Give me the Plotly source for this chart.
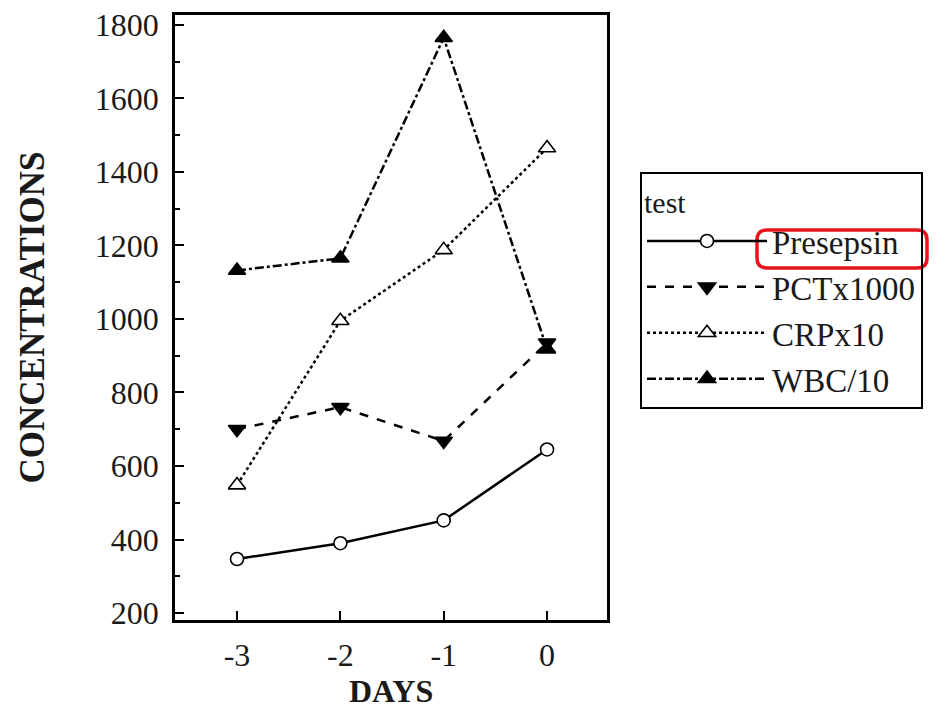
import plotly.graph_objects as go

days = [-3, -2, -1, 0]
day_labels = ["-3", "-2", "-1", "0"]
presepsin = [347, 390, 452, 645]
pct_x1000 = [700, 760, 668, 935]
crp_x10 = [548, 995, 1188, 1465]
wbc_div10 = [1132, 1165, 1765, 918]
y_ticks = [200, 400, 600, 800, 1000, 1200, 1400, 1600, 1800]
y_minor = [300, 500, 700, 900, 1100, 1300, 1500, 1700]

series = [
    ("Presepsin", presepsin, "solid", "circle", "white", 13),
    ("PCTx1000", pct_x1000, "dash", "triangle-down", "black", 15),
    ("CRPx10", crp_x10, "dot", "triangle-up", "white", 15),
    ("WBC/10", wbc_div10, "dashdot", "triangle-up", "black", 15),
]

SERIF = "Liberation Serif"
INK = "#1a1a1a"

fig = go.Figure()
for i, (name, vals, dash, sym, fill, sz) in enumerate(series):
    fig.add_trace(go.Scatter(
        x=days, y=vals, name=name, mode="lines+markers",
        line=dict(color="black", width=2.5, dash=dash),
        marker=dict(symbol=sym, size=sz, color=fill, line=dict(color="black", width=1.6)),
        legendgroup=f"g{i}",
    ))

axis_common = dict(
    showline=True, linecolor="black", linewidth=2.5, mirror=True,
    ticks="inside", tickcolor="black", tickwidth=2, ticklen=9,
    showgrid=False, zeroline=False, ticklabeloverflow="allow",
    tickfont=dict(family=SERIF, size=32, color=INK),
)

fig.update_xaxes(
    **axis_common, range=[-3.6, 0.58], tickvals=days, ticktext=day_labels,
    ticklabelstandoff=5,
)
fig.update_yaxes(
    **axis_common, range=[181, 1827], tickvals=y_ticks,
    minor=dict(ticks="inside", tickvals=y_minor, ticklen=5, tickwidth=2, tickcolor="black"),
    ticklabelstandoff=7,
    title=dict(text="<b>CONCENTRATIONS</b>", font=dict(family=SERIF, size=35, color=INK), standoff=40),
)

# x-axis title
fig.add_annotation(text="<b>DAYS</b>", xref="paper", yref="paper", x=0.5, y=-0.118,
                   xanchor="center", yanchor="middle", showarrow=False,
                   font=dict(family=SERIF, size=32, color=INK))

# red highlight box around the "Presepsin" legend label
px, py = 432.0, 605.0
x0, x1 = 582 / px, 752 / px
y0, y1 = 352 / py, 390 / py
rx, ry = 10 / px, 10 / py
path = (f"M {x0+rx},{y0} L {x1-rx},{y0} Q {x1},{y0} {x1},{y0+ry} "
        f"L {x1},{y1-ry} Q {x1},{y1} {x1-rx},{y1} L {x0+rx},{y1} "
        f"Q {x0},{y1} {x0},{y1-ry} L {x0},{y0+ry} Q {x0},{y0} {x0+rx},{y0} Z")
fig.add_shape(type="path", path=path, xref="paper", yref="paper",
              line=dict(color="#e8141c", width=3.5))

fig.update_layout(
    width=935, height=704,
    margin=dict(l=167, r=336, t=7, b=92, autoexpand=False),
    paper_bgcolor="white", plot_bgcolor="white",
    showlegend=True,
    legend=dict(
        x=1.0764, y=0.7405, xanchor="left", yanchor="top",
        bgcolor="rgba(0,0,0,0)",
        bordercolor="black", borderwidth=2,
        font=dict(family=SERIF, size=33, color=INK),
        title=dict(text="test", font=dict(family=SERIF, size=30, color=INK)),
        traceorder="grouped", tracegroupgap=0, itemwidth=120,
        entrywidth=200,
    ),
)

fig.write_html("out.html")
